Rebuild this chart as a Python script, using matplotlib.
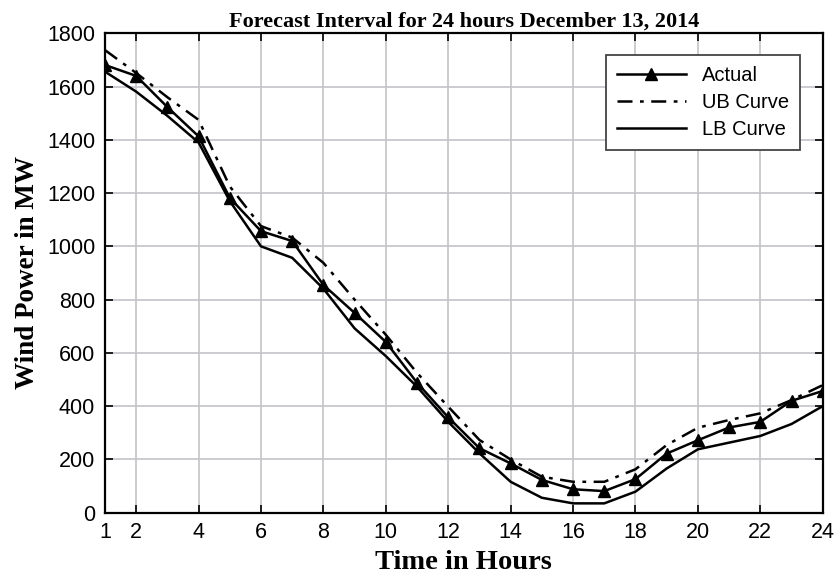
import matplotlib.pyplot as plt
import numpy as np

hours = np.arange(1, 25)
actual = [1681, 1640, 1523, 1413, 1182, 1057, 1020, 855, 750, 641, 488, 358,
          242, 185, 123, 88, 81, 126, 222, 272, 320, 341, 420, 457]
ub_curve = [1737, 1651, 1560, 1475, 1225, 1076, 1033, 938, 800, 668, 525, 398,
            273, 200, 135, 116, 116, 163, 254, 319, 348, 373, 423, 479]
lb_curve = [1656, 1581, 1490, 1390, 1170, 1000, 957, 841, 692, 588, 473, 341,
            223, 116, 56, 35, 35, 79, 166, 238, 263, 288, 333, 400]
xticks = [1, 2, 4, 6, 8, 10, 12, 14, 16, 18, 20, 22, 24]
yticks = np.arange(0, 1801, 200)

plt.rcParams['font.family'] = 'Liberation Sans'

fig = plt.figure(figsize=(8.35, 5.78), dpi=100)
ax = fig.add_axes([0.1257, 0.1130, 0.8596, 0.8294])

ax.plot(hours, actual, color='black', lw=1.8, marker='^', markersize=8, label='Actual')
ax.plot(hours, ub_curve, color='black', lw=1.8, linestyle=(0, (6, 3, 1.5, 3)), label='UB Curve')
ax.plot(hours, lb_curve, color='black', lw=1.8, label='LB Curve')

ax.set_xlim(1, 24)
ax.set_ylim(0, 1800)
ax.set_xticks(xticks)
ax.set_yticks(yticks)
ax.tick_params(direction='in', length=6, width=1.2, top=True, right=True, labelsize=15.5, pad=7)
ax.grid(True, color='#c4c4c8', lw=1.2)
for s in ax.spines.values():
    s.set_linewidth(1.6)

ax.set_title('Forecast Interval for 24 hours December 13, 2014',
             fontfamily='Liberation Serif', fontweight='bold', fontsize=16, pad=5)
ax.set_xlabel('Time in Hours', fontfamily='Liberation Serif', fontweight='bold', fontsize=20.5, labelpad=5)
ax.set_ylabel('Wind Power in MW', fontfamily='Liberation Serif', fontweight='bold', fontsize=19.5, labelpad=5)

leg = ax.legend(loc='upper right', bbox_to_anchor=(0.9684, 0.9547), borderaxespad=0,
                fontsize=14.5, handlelength=3.4, fancybox=False, edgecolor='#444444',
                framealpha=1, borderpad=0.55, labelspacing=0.4)
leg.get_frame().set_linewidth(1.3)

fig.savefig('out.png', dpi=100)
